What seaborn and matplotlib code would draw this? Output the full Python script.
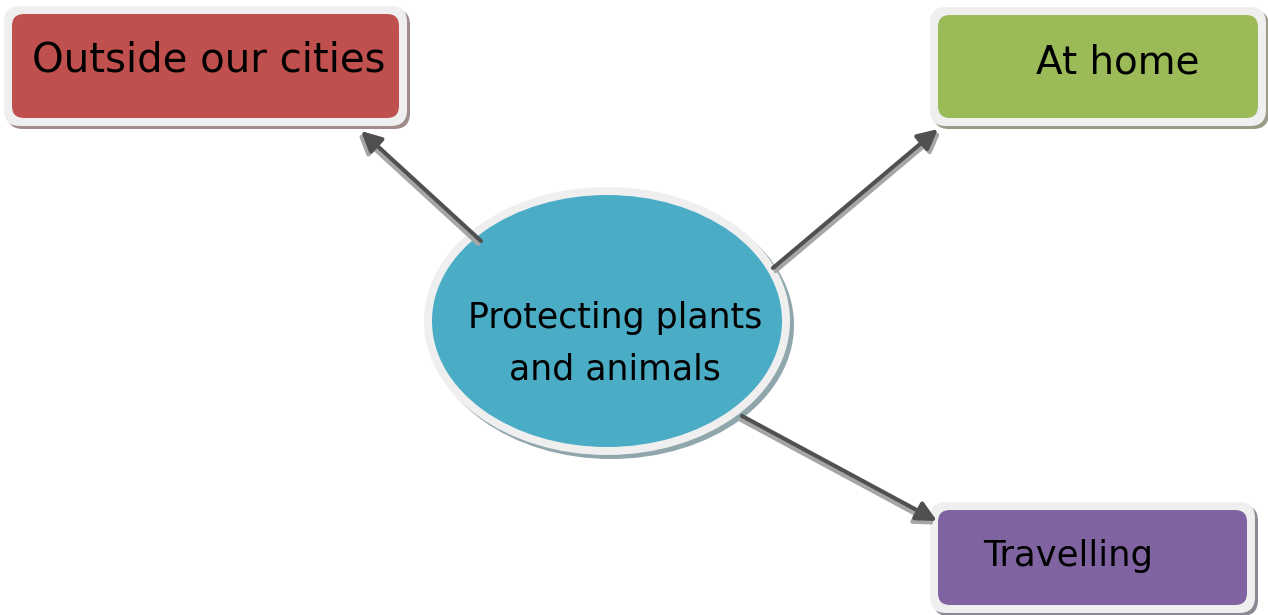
import numpy as np
import matplotlib
matplotlib.use('Agg')
import matplotlib.pyplot as plt
import seaborn as sns
from matplotlib.patches import FancyBboxPatch, Ellipse

sns.set_theme(style='white')
plt.rcParams['font.family'] = ['DejaVu Sans']

# diagram content
center_label = ['Protecting plants', 'and animals']
branch_labels = ['Outside our cities', 'At home', 'Travelling']
branch_colors = ['#C0504D', '#9BBB59', '#8064A2']
center_color = '#4BACC6'
shadow_colors = ['#a08a8a', '#9a9a86', '#8a8a95']

# layout in pixels (x0, y0, x1, y1) of coloured fill
boxes = [(12, 14, 399, 118), (938, 15, 1258, 118), (938, 510, 1247, 605)]
text_pos = [(209, 60), (1118, 62), (1068, 556)]
text_size = [29, 28, 25.5]
arrows = [((481, 241), (361, 131)), ((773, 268), (938, 129)), ((742, 416), (937, 521))]

fig = plt.figure(figsize=(12.68, 6.15), dpi=100)
ax = fig.add_axes([0, 0, 1, 1])
ax.set_xlim(0, 1268)
ax.set_ylim(615, 0)
ax.axis('off')

ring = 8
for (x0, y0, x1, y1), col, sh in zip(boxes, branch_colors, shadow_colors):
    w, h = x1 - x0, y1 - y0
    ax.add_patch(FancyBboxPatch((x0 - ring + 3, y0 - ring + 3), w + 2 * ring, h + 2 * ring,
                                boxstyle='round,pad=0,rounding_size=16', fc=sh, ec='none', zorder=1))
    ax.add_patch(FancyBboxPatch((x0 - ring, y0 - ring), w + 2 * ring, h + 2 * ring,
                                boxstyle='round,pad=0,rounding_size=16', fc='#efefef', ec='none', zorder=2))
    ax.add_patch(FancyBboxPatch((x0, y0), w, h,
                                boxstyle='round,pad=0,rounding_size=12', fc=col, ec='none', zorder=3))

for lab, (tx, ty), fs in zip(branch_labels, text_pos, text_size):
    ax.text(tx, ty, lab, ha='center', va='center', fontsize=fs, color='black', zorder=4)

# central ellipse
cx, cy, rx, ry = 607, 321, 175, 126
ax.add_patch(Ellipse((cx + 4, cy + 4), 2 * (rx + ring), 2 * (ry + ring), fc='#8fa6ad', ec='none', zorder=1))
ax.add_patch(Ellipse((cx, cy), 2 * (rx + ring), 2 * (ry + ring), fc='#efefef', ec='none', zorder=2))
ax.add_patch(Ellipse((cx, cy), 2 * rx, 2 * ry, fc=center_color, ec='none', zorder=3))
ax.text(615, 318, center_label[0], ha='center', va='center', fontsize=25, color='black', zorder=4)
ax.text(615, 370, center_label[1], ha='center', va='center', fontsize=25, color='black', zorder=4)

# arrows: dark line with lighter offset line
for (sx, sy), (ex, ey) in arrows:
    d = np.array([ex - sx, ey - sy], dtype=float)
    n = np.array([-d[1], d[0]]) / np.hypot(*d)
    if n[1] < 0:
        n = -n
    off = n * 4
    ax.annotate('', xy=(ex + off[0], ey + off[1]), xytext=(sx + off[0], sy + off[1]),
                arrowprops=dict(arrowstyle='-|>,head_length=1.0,head_width=0.5', color='#a6a6a6',
                                lw=3, shrinkA=0, shrinkB=0), zorder=5)
    ax.annotate('', xy=(ex, ey), xytext=(sx, sy),
                arrowprops=dict(arrowstyle='-|>,head_length=1.0,head_width=0.5', color='#505050',
                                lw=3, shrinkA=0, shrinkB=0), zorder=6)

fig.savefig('out.png', dpi=100)
